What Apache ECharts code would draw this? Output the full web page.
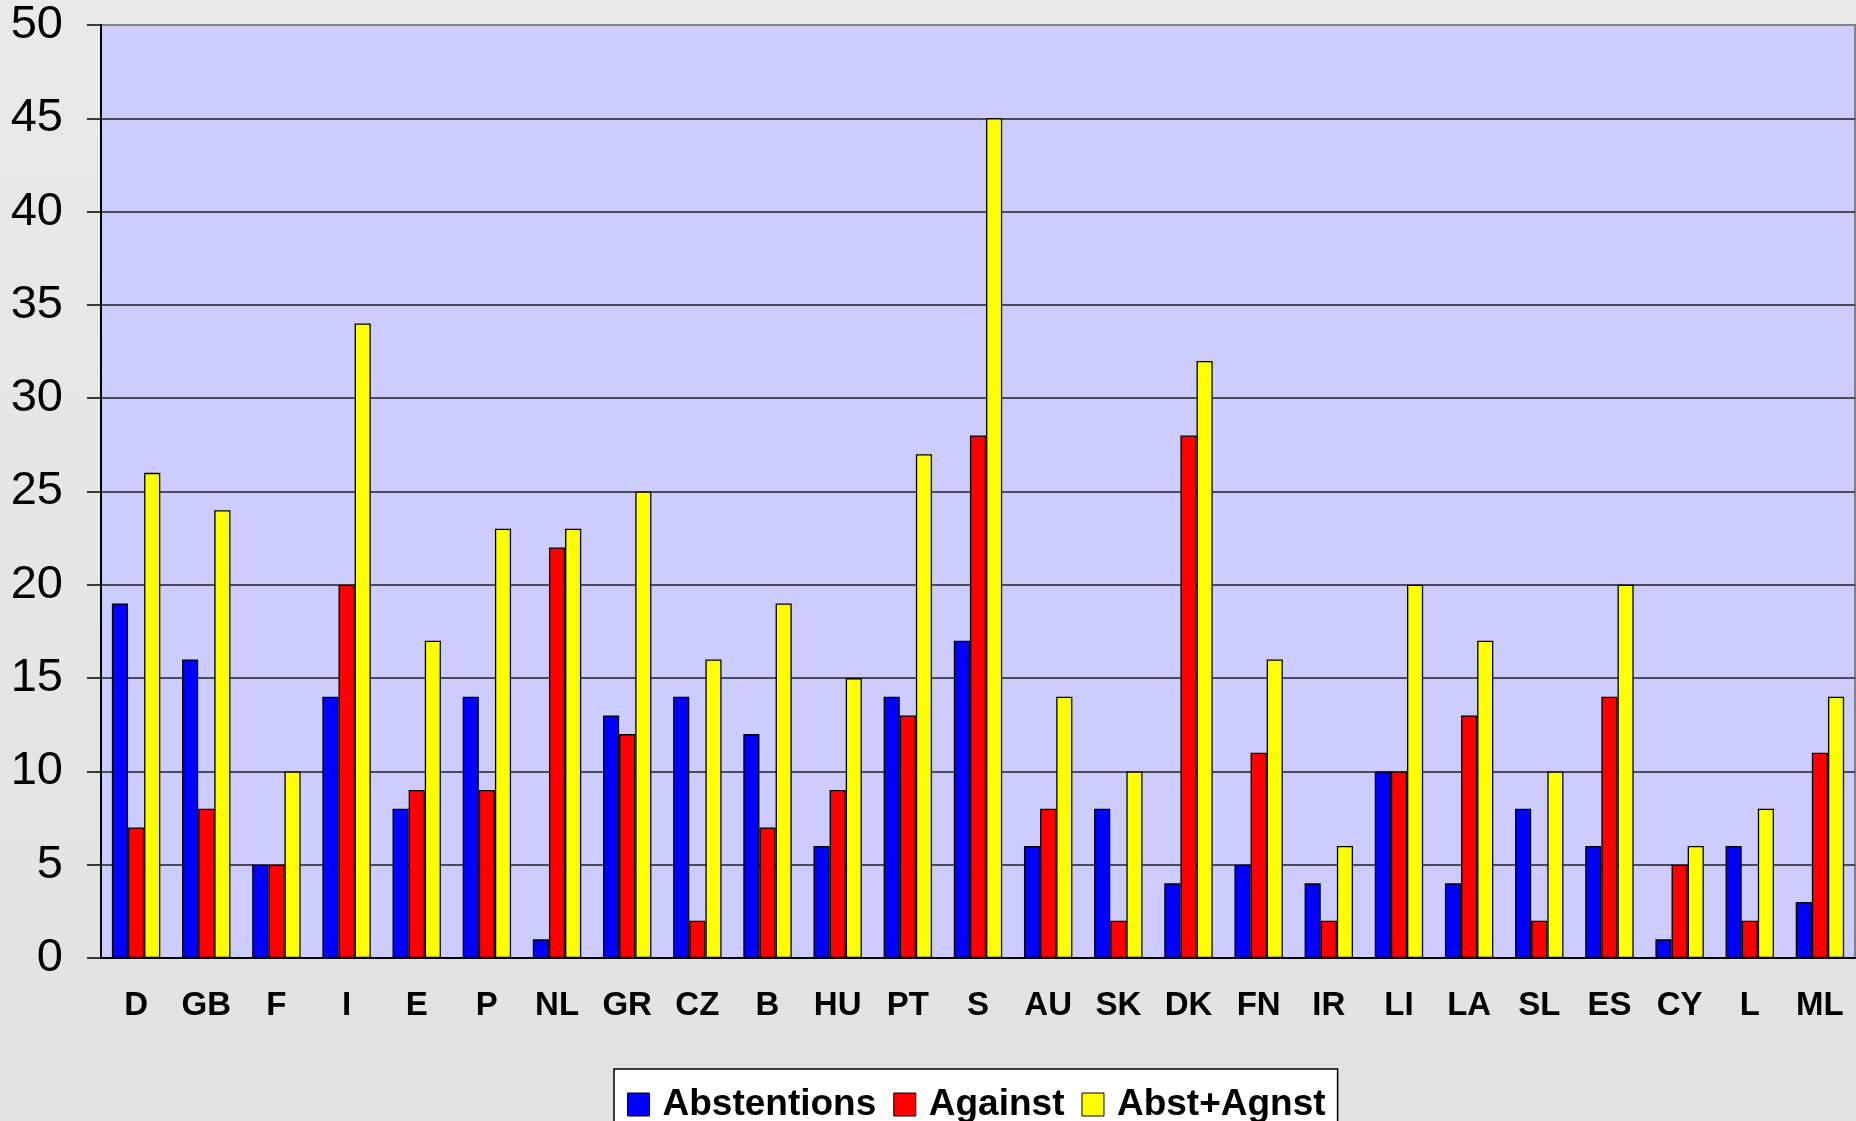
<!DOCTYPE html>
<html>
<head>
<meta charset="utf-8">
<script src="https://cdn.jsdelivr.net/npm/echarts@6/dist/echarts.min.js"></script>
<style>
  html, body { margin: 0; padding: 0; }
  #main { width: 1856px; height: 1121px; }
</style>
</head>
<body>
<div id="main"></div>
<script>
// countries
var countries = ['D', 'GB', 'F', 'I', 'E', 'P', 'NL', 'GR', 'CZ', 'B', 'HU', 'PT', 'S',
  'AU', 'SK', 'DK', 'FN', 'IR', 'LI', 'LA', 'SL', 'ES', 'CY', 'L', 'ML'];
var abstentions = [19, 16, 5, 14, 8, 14, 1, 13, 14, 12, 6, 14, 17, 6, 8, 4, 5, 4, 10, 4, 8, 6, 1, 6, 3];
var against = [7, 8, 5, 20, 9, 9, 22, 12, 2, 7, 9, 13, 28, 8, 2, 28, 11, 2, 10, 13, 2, 14, 5, 2, 11];
var abstAgnst = [26, 24, 10, 34, 17, 23, 23, 25, 16, 19, 15, 27, 45, 14, 10, 32, 16, 6, 20, 17, 10, 20, 6, 8, 14];
var yTicks = [0, 5, 10, 15, 20, 25, 30, 35, 40, 45, 50];

var font = '"Liberation Sans", Arial, sans-serif';

var myChart = echarts.init(document.getElementById('main'));

function barSeries(name, data, color) {
  return {
    name: name,
    type: 'bar',
    data: data,
    barGap: '0%',
    barCategoryGap: '31%',
    itemStyle: { color: color, borderColor: '#000', borderWidth: 1.3 }
  };
}

myChart.setOption({
  animation: false,
  backgroundColor: new echarts.graphic.LinearGradient(0, 0, 0, 1, [
    { offset: 0, color: '#e9e9e9' },
    { offset: 1, color: '#e2e2e2' }
  ]),
  grid: {
    left: 101, right: 1, top: 25, bottom: 163,
    show: true,
    backgroundColor: '#ccccff',
    borderColor: '#808080',
    borderWidth: 2
  },
  legend: {
    left: 614, top: 1069,
    padding: [17, 12, 40, 13],
    backgroundColor: '#fff',
    borderColor: '#000',
    borderWidth: 1.5,
    itemWidth: 22, itemHeight: 23,
    itemGap: 17,
    icon: 'rect',
    itemStyle: { borderColor: '#000', borderWidth: 1 },
    textStyle: { fontFamily: font, fontWeight: 'bold', fontSize: 37, color: '#000', padding: [0, 0, 0, 8] },
    data: ['Abstentions', 'Against', 'Abst+Agnst']
  },
  xAxis: {
    type: 'category',
    data: countries,
    axisLine: { lineStyle: { color: '#000', width: 2 } },
    axisTick: { length: 10, lineStyle: { color: '#000', width: 1.5 } },
    axisLabel: { fontFamily: font, fontWeight: 'bold', fontSize: 33, color: '#000', margin: 31, interval: 0 },
    splitLine: { show: false }
  },
  yAxis: {
    type: 'value',
    min: yTicks[0], max: yTicks[yTicks.length - 1], interval: 5,
    axisLine: { show: true, lineStyle: { color: '#000', width: 2 } },
    axisTick: { show: true, length: 14, lineStyle: { color: '#000', width: 1.5 } },
    axisLabel: { fontFamily: font, fontSize: 47, color: '#000', margin: 38 },
    splitLine: { show: true, showMaxLine: false, lineStyle: { color: '#222', width: 1.5 } }
  },
  series: [
    barSeries('Abstentions', abstentions, '#0000ff'),
    barSeries('Against', against, '#ff0000'),
    barSeries('Abst+Agnst', abstAgnst, '#ffff00')
  ]
});
</script>
</body>
</html>
